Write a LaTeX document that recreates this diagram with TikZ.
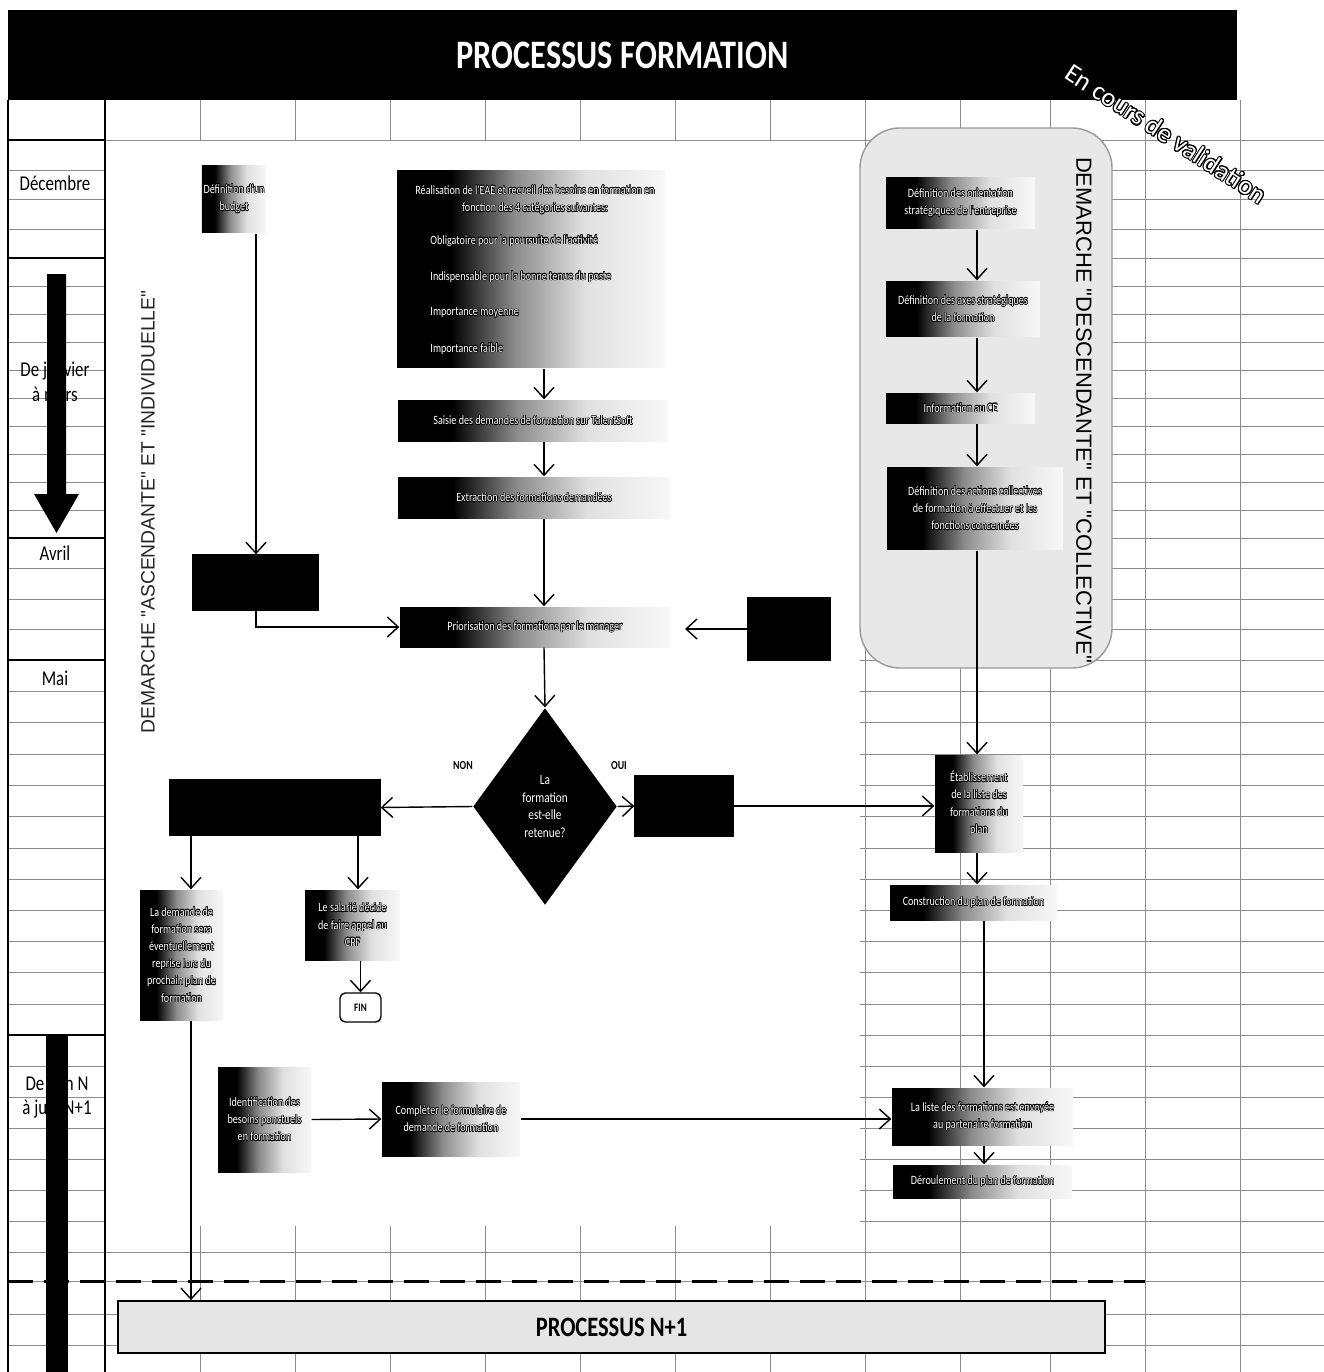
\documentclass[tikz,border=0pt]{standalone}
\usepackage{fontspec}
\setmainfont{Carlito}
\newfontfamily\condf[FakeStretch=0.8]{Carlito}
\newfontfamily\arialf{Liberation Sans}
\usepackage{contour}
\contourlength{0.3pt}
\usetikzlibrary{arrows.meta,shapes.geometric}

\newcommand\policebox{\condf\fontsize{7.2}{9.8}\selectfont}
\newcommand\wt[1]{\contour{black}{#1}}

% degrade noir -> blanc des cases
\pgfdeclarehorizontalshading{fondu}{100bp}{color(0bp)=(black); color(25bp)=(black); color(35bp)=(black); color(47bp)=(black!45); color(60bp)=(black!12); color(75bp)=(black!3); color(100bp)=(black!3)}

\tikzset{
  grille/.style={black!45,line width=0.35pt},
  fondbox/.style={rectangle,shading=fondu,inner sep=1pt,text=white,align=center,font=\policebox},
  noirbox/.style={rectangle,fill=black,draw=black},
  txt/.style={inner sep=1pt,text=white,font=\policebox},
  mois/.style={font=\condf\fontsize{12}{14}\selectfont,align=center},
}

\begin{document}
\begin{tikzpicture}[x=0.02cm,y=-0.02cm,line width=0.8pt,>={Straight Barb[length=2.2mm,width=4mm]}]
  \useasboundingbox (0,0) rectangle (1324,1372);
  % grille du tableur
  \foreach \gy in {140,170,199,229,258,286,314,342,370,398,426,454,482,510,538,568,599,629,660,691,722,754,785,816,848,879,910,941,972,1004,1035,1066,1097,1128,1159,1190,1221,1252,1281,1314,1345}
    \draw[grille] (8,\gy) -- (1324,\gy);
  \foreach \gx in {105,200,295,390,485,580,675,770,865,960,1050,1145,1240}
    \draw[grille] (\gx,100) -- (\gx,1372);
  \fill[white] (106,141) rectangle (860,1226);
  \draw[fill=black!9,draw=black!40,rounded corners=0.8cm] (860,128) rectangle (1112,668);
  % colonne des mois
  \draw[line width=1pt] (8,100) -- (8,1372) (105,100) -- (105,1372);
  \foreach \my in {140,258,538,660,1035}
    \draw[line width=1pt] (8,\my) -- (105,\my);
  \node[mois] (mdec) at (55,183) {Décembre};
  \node[mois] (mjan) at (55,382) {De janvier\\à mars};
  \node[mois] (mavr) at (55,553) {Avril};
  \node[mois] (mmai) at (55,678) {Mai};
  \node[mois] (mjuin) at (57,1097) {De juin N\\à juin N+1};
  \fill (47,274) -- (66,274) -- (66,494) -- (79,494) -- (56.5,533) -- (34,494) -- (47,494) -- cycle;
  \fill (46,1036) rectangle (68,1372);
  \draw[line width=1.7pt,dash pattern=on 0.5cm off 0.22cm] (8,1281) -- (1145,1281);

  % titre
  \node[fill=black,minimum width=24.58cm,minimum height=1.8cm,text=white,font=\condf\bfseries\fontsize{23}{27}\selectfont] (titre) at (622.5,55) {PROCESSUS FORMATION};
  \node[rotate=-33,text=white,font=\fontsize{15}{17}\selectfont] (valid) at (1166,134) {\contourlength{0.6pt}\contour{black}{En cours de validation}};
  \node[rotate=90,text=black!85,font=\arialf\fontsize{11}{13}\selectfont] (asc) at (148,512) {DEMARCHE "ASCENDANTE" ET "INDIVIDUELLE"};
  \node[rotate=-90,font=\arialf\fontsize{12.5}{14}\selectfont] (desc) at (1084,410) {DEMARCHE "DESCENDANTE" ET "COLLECTIVE"};

  % demarche ascendante
  \node[fondbox,minimum width=1.12cm,minimum height=1.36cm] (budget) at (234,199) {\wt{Définition d'un}\\\wt{budget}};
  \node[fondbox,minimum width=5.36cm,minimum height=3.96cm] (eae) at (531,269) {};
  \node[txt,align=center] (eaeh) at (535,200) {\wt{Réalisation de l'EAE et recueil des besoins en formation en}\\\wt{fonction des 4 catégories suivantes:}};
  \foreach \by/\bt [count=\bi] in {241/Obligatoire pour la poursuite de l'activité,277/Indispensable pour la bonne tenue du poste,313/Importance moyenne,349/Importance faible}
    \node[txt,anchor=west] (eaeb\bi) at (428,\by) {\wt{\bt}};
  \node[fondbox,minimum width=5.4cm,minimum height=0.82cm] (saisie) at (533,420.5) {\wt{Saisie des demandes de formation sur TalentSoft}};
  \node[fondbox,minimum width=5.44cm,minimum height=0.82cm] (extraction) at (534,497.5) {\wt{Extraction des formations demandées}};
  \node[noirbox,minimum width=2.5cm,minimum height=1.1cm] (arbitrage) at (255.5,582.5) {};
  \node[fondbox,minimum width=5.4cm,minimum height=0.8cm] (prio) at (535,627) {\wt{Priorisation des formations par le manager}};
  \node[noirbox,minimum width=1.64cm,minimum height=1.24cm] (manager) at (789,629) {};
  \node[diamond,fill=black,minimum width=2.88cm,minimum height=3.94cm,inner sep=0pt,align=center,text=white,font=\condf\fontsize{8}{10}\selectfont] (choix) at (545,806.5) {La\\formation\\est-elle\\retenue?};
  \node[font=\condf\bfseries\fontsize{7}{8}\selectfont] (lnon) at (463,766) {NON};
  \node[font=\condf\bfseries\fontsize{7}{8}\selectfont] (loui) at (619,766) {OUI};
  \node[noirbox,minimum width=4.2cm,minimum height=1.1cm] (nonbox) at (275,807.5) {};
  \node[noirbox,minimum width=1.96cm,minimum height=1.2cm] (ouibox) at (684,806) {};
  \node[fondbox,minimum width=1.66cm,minimum height=2.6cm] (demande) at (181.5,955) {\wt{La demande de}\\\wt{formation sera}\\\wt{éventuellement}\\\wt{reprise lors du}\\\wt{prochain plan de}\\\wt{formation}};
  \node[fondbox,minimum width=1.9cm,minimum height=1.4cm] (salarie) at (352.5,925) {\wt{Le salarié décide}\\\wt{de faire appel au}\\\wt{CPF}};
  \node[draw,fill=white,rounded corners=3pt,minimum width=0.82cm,minimum height=0.58cm,font=\condf\bfseries\fontsize{6.5}{8}\selectfont] (fin) at (360.5,1007.5) {FIN};
  \node[fondbox,minimum width=1.86cm,minimum height=2.1cm] (ident) at (264.5,1119.5) {\wt{Identification des}\\\wt{besoins ponctuels}\\\wt{en formation}};
  \node[fondbox,minimum width=2.76cm,minimum height=1.48cm] (completer) at (451,1119) {\wt{Compléter le formulaire de}\\\wt{demande de formation}};

  % demarche descendante
  \node[fondbox,minimum width=2.98cm,minimum height=1.04cm] (orient) at (960.5,203) {\wt{Définition des orientation}\\\wt{stratégiques de l'entreprise}};
  \node[fondbox,minimum width=3.08cm,minimum height=1.12cm] (axes) at (963,309) {\wt{Définition des axes stratégiques}\\\wt{de la formation}};
  \node[fondbox,minimum width=2.98cm,minimum height=0.6cm] (info) at (960.5,408) {\wt{Information au CE}};
  \node[fondbox,minimum width=3.52cm,minimum height=1.66cm] (actions) at (975,508.5) {\wt{Définition des actions collectives}\\\wt{de formation à effectuer et les}\\\wt{fonctions concernées}};
  \node[fondbox,minimum width=1.76cm,minimum height=1.94cm] (etab) at (979,803.5) {\wt{Établissement}\\\wt{de la liste des}\\\wt{formations du}\\\wt{plan}};
  \node[fondbox,minimum width=3.34cm,minimum height=0.7cm] (construct) at (973.5,902.5) {\wt{Construction du plan de formation}};
  \node[fondbox,minimum width=3.62cm,minimum height=1.14cm] (envoi) at (982.5,1116.5) {\wt{La liste des formations est envoyée}\\\wt{au partenaire formation}};
  \node[fondbox,minimum width=3.58cm,minimum height=0.66cm] (deroul) at (982.5,1181.5) {\wt{Déroulement du plan de formation}};

  \node[draw,line width=1pt,fill=black!10,minimum width=19.74cm,minimum height=1.04cm,font=\condf\bfseries\fontsize{16}{18}\selectfont] (nplus) at (611.5,1327) {PROCESSUS N+1};

  % fleches
  \coordinate (xL) at (256,0);
  \coordinate (xC) at (544,0);
  \coordinate (xD) at (191,0);
  \coordinate (xS) at (358,0);
  \coordinate (xR) at (977,0);
  \coordinate (xR2) at (984,0);
  \coordinate (finprio) at (685,629);
  \draw[->] (budget.south -| xL) -- (arbitrage.north -| xL);
  \draw[->] (arbitrage.south -| xL) |- (prio.west);
  \draw[->] (eae.south -| xC) -- (saisie.north -| xC);
  \draw[->] (saisie.south -| xC) -- (extraction.north -| xC);
  \draw[->] (extraction.south -| xC) -- (prio.north -| xC);
  \draw[->] (prio.south -| xC) -- (choix.north);
  \draw[->] (manager.west) -- (finprio);
  \draw[->] (choix.west) -- (nonbox.east);
  \draw[->] (choix.east) -- (ouibox.west);
  \draw[->] (ouibox.east) -- (ouibox.east -| etab.west);
  \draw[->] (nonbox.south -| xD) -- (demande.north -| xD);
  \draw[->] (nonbox.south -| xS) -- (salarie.north -| xS);
  \draw[->] (salarie.south -| fin.north) -- (fin.north);
  \draw[->] (demande.south -| xD) -- (nplus.north -| xD);
  \draw[->] (ident.east) -- (completer.west);
  \draw[->] (completer.east) -- (completer.east -| envoi.west);
  \draw[->] (orient.south -| xR) -- (axes.north -| xR);
  \draw[->] (axes.south -| xR) -- (info.north -| xR);
  \draw[->] (info.south -| xR) -- (actions.north -| xR);
  \draw[->] (actions.south -| xR) -- (etab.north -| xR);
  \draw[->] (etab.south -| xR) -- (construct.north -| xR);
  \draw[->] (construct.south -| xR2) -- (envoi.north -| xR2);
  \draw[->] (envoi.south -| xR2) -- (deroul.north -| xR2);
\end{tikzpicture}
\end{document}
